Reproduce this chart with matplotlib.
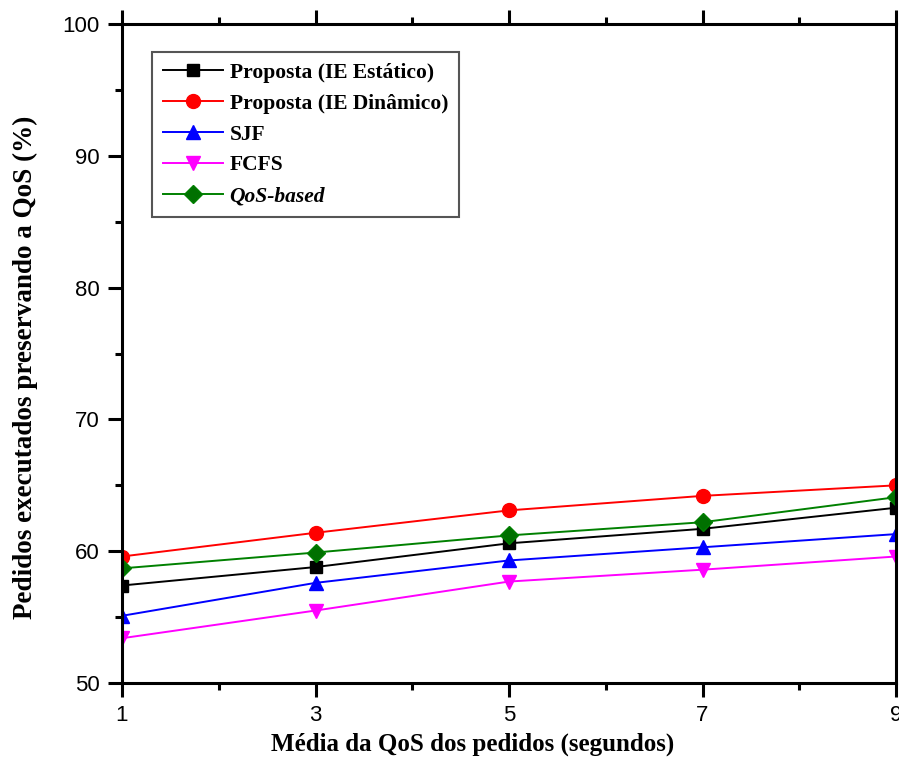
import numpy as np
import matplotlib.pyplot as plt
from matplotlib.ticker import MultipleLocator

# dados
qos_media = [1, 3, 5, 7, 9]
ie_estatico = [57.4, 58.8, 60.6, 61.7, 63.3]
ie_dinamico = [59.6, 61.4, 63.1, 64.2, 65.0]
sjf = [55.1, 57.6, 59.3, 60.3, 61.3]
fcfs = [53.4, 55.5, 57.7, 58.6, 59.6]
qos_based = [58.7, 59.9, 61.2, 62.2, 64.1]

fig = plt.figure(figsize=(8.99, 7.58), dpi=100)
ax = fig.add_axes([0.1357, 0.0989, 0.861, 0.8694])

serif = 'Liberation Serif'
sans = 'Liberation Sans'

ax.plot(qos_media, ie_estatico, color='black', marker='s', markersize=9, lw=1.4, label='Proposta (IE Estático)')
ax.plot(qos_media, ie_dinamico, color='red', marker='o', markersize=10, lw=1.4, label='Proposta (IE Dinâmico)')
ax.plot(qos_media, sjf, color='blue', marker='^', markersize=10, lw=1.4, label='SJF')
ax.plot(qos_media, fcfs, color='magenta', marker='v', markersize=10, lw=1.4, label='FCFS')
ax.plot(qos_media, qos_based, color='green', marker='D', markersize=9, markeredgecolor='green',
        markerfacecolor='#007000', lw=1.4, label='QoS-based')

ax.set_xlim(1, 9)
ax.set_ylim(50, 100)
ax.set_xticks(qos_media)
ax.xaxis.set_minor_locator(MultipleLocator(1))
ax.yaxis.set_major_locator(MultipleLocator(10))
ax.yaxis.set_minor_locator(MultipleLocator(5))

for s in ax.spines.values():
    s.set_linewidth(2.2)

ax.tick_params(which='major', direction='out', length=10, width=2.2, top=True, right=False, pad=6)
ax.tick_params(which='minor', direction='out', length=5, width=2.2, top=True, right=False)
for lbl in ax.get_xticklabels() + ax.get_yticklabels():
    lbl.set_fontfamily(sans)
    lbl.set_fontsize(16)

ax.set_xlabel('Média da QoS dos pedidos (segundos)', fontfamily=serif, fontweight='bold', fontsize=18)
ax.set_ylabel('Pedidos executados preservando a QoS (%)', fontfamily=serif, fontweight='bold', fontsize=19.5)
ax.xaxis.set_label_coords(0.4535, -0.0745)
ax.yaxis.set_label_coords(-0.108, 0.4795)

leg = ax.legend(loc='upper left', bbox_to_anchor=(0.039, 0.9575), borderaxespad=0, fancybox=False,
                edgecolor='#555555', prop={'family': serif, 'weight': 'bold', 'size': 15.5},
                handlelength=2.8, labelspacing=0.5, borderpad=0.5, handletextpad=0.3, framealpha=1)
leg.get_frame().set_linewidth(1.5)
leg.get_texts()[4].set_fontstyle('italic')

fig.savefig('out.png', dpi=100)
